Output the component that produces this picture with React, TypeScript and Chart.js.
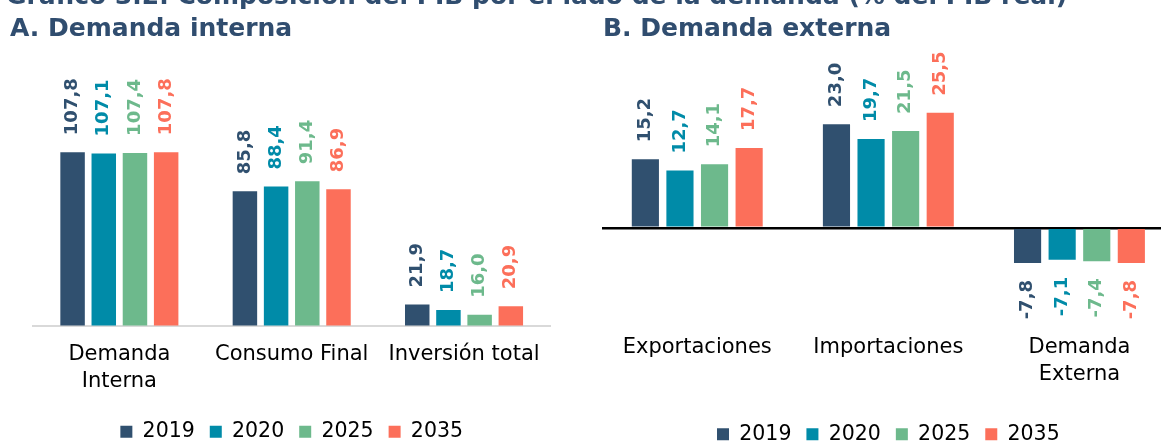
import React, { useEffect, useRef } from 'react';
import { Chart, registerables } from 'chart.js';

Chart.register(...registerables);

const FONT = '"DejaVu Sans", Verdana, sans-serif';
const TITLE_COLOR = '#304D6F';

const MAIN_TITLE = 'Gráfico 3.2. Composición del PIB por el lado de la demanda (% del PIB real)';
const TITLE_A = 'A. Demanda interna';
const TITLE_B = 'B. Demanda externa';

const YEARS = ['2019', '2020', '2025', '2035'];
const COLORS = ['#30506F', '#008BA8', '#6DB98C', '#FC6F5A'];

const INT_CATEGORIES: (string | string[])[] = [['Demanda', 'Interna'], 'Consumo Final', 'Inversión total'];
const INT_2019 = [107.8, 85.8, 21.9];
const INT_2020 = [107.1, 88.4, 18.7];
const INT_2025 = [107.4, 91.4, 16.0];
const INT_2035 = [107.8, 86.9, 20.9];

const EXT_CATEGORIES: (string | string[])[] = ['Exportaciones', 'Importaciones', ['Demanda', 'Externa']];
const EXT_2019 = [15.2, 23.0, -7.8];
const EXT_2020 = [12.7, 19.7, -7.1];
const EXT_2025 = [14.1, 21.5, -7.4];
const EXT_2035 = [17.7, 25.5, -7.8];

const INT_Y_MIN = 10;
const INT_Y_MAX = 165;
const EXT_Y_MIN = -20;
const EXT_Y_MAX = 40;

const valueLabels = {
  id: 'valueLabels',
  afterDatasetsDraw(chart: any) {
    const ctx = chart.ctx;
    chart.data.datasets.forEach((ds: any, di: number) => {
      const meta = chart.getDatasetMeta(di);
      meta.data.forEach((bar: any, i: number) => {
        const v = ds.data[i] as number;
        const text = v.toFixed(1).replace('.', ',');
        ctx.save();
        ctx.font = `bold 18px ${FONT}`;
        ctx.fillStyle = ds.backgroundColor;
        ctx.textBaseline = 'middle';
        const off = 17;
        ctx.translate(bar.x, v >= 0 ? bar.y - off : bar.y + off);
        ctx.rotate(-Math.PI / 2);
        ctx.textAlign = v >= 0 ? 'left' : 'right';
        ctx.fillText(text, 0, 0);
        ctx.restore();
      });
    });
  },
};

function makeDatasets(series: number[][]) {
  return series.map((data, i) => ({
    label: YEARS[i],
    data,
    backgroundColor: COLORS[i],
    borderWidth: 0,
    categoryPercentage: 0.724,
    barPercentage: 0.785,
  }));
}

const legendOpts = {
  display: true,
  position: 'bottom' as const,
  labels: {
    font: { size: 20.5, family: FONT },
    color: '#000',
    boxWidth: 12,
    boxHeight: 12,
    padding: 15,
  },
};

const tickFont = { size: 21, family: FONT, lineHeight: 1.27 };

function InternalChart() {
  const ref = useRef<HTMLCanvasElement>(null);
  useEffect(() => {
    const chart = new Chart(ref.current!, {
      type: 'bar',
      data: {
        labels: INT_CATEGORIES as any,
        datasets: makeDatasets([INT_2019, INT_2020, INT_2025, INT_2035]) as any,
      },
      options: {
        responsive: false,
        animation: false,
        devicePixelRatio: 1,
        layout: { padding: { left: 33.2, right: 29.8, top: 50.8, bottom: 8 } },
        plugins: { legend: legendOpts as any, tooltip: { enabled: false }, title: { display: false } },
        scales: {
          x: {
            grid: { display: false, drawTicks: false },
            border: { display: true, color: '#D9D9D9', width: 2 },
            ticks: {
              font: tickFont,
              color: '#000',
              padding: 16,
              maxRotation: 0,
              autoSkip: false,
            },
            afterFit: (s: any) => { s.height = 81; },
          },
          y: {
            display: false,
            min: INT_Y_MIN,
            max: INT_Y_MAX,
          },
        },
      },
      plugins: [valueLabels],
    });
    return () => chart.destroy();
  }, []);
  return <canvas ref={ref} width={580} height={460} style={{ position: 'absolute', left: 0, top: 0, width: 580, height: 460 }} />;
}

function ExternalChart() {
  const ref = useRef<HTMLCanvasElement>(null);
  useEffect(() => {
    const chart = new Chart(ref.current!, {
      type: 'bar',
      data: {
        labels: EXT_CATEGORIES as any,
        datasets: makeDatasets([EXT_2019, EXT_2020, EXT_2025, EXT_2035]) as any,
      },
      options: {
        responsive: false,
        animation: false,
        devicePixelRatio: 1,
        layout: { padding: { left: 21.7, right: 25, top: 47.5, bottom: 5.5 } },
        plugins: { legend: legendOpts as any, tooltip: { enabled: false }, title: { display: false } },
        scales: {
          x: {
            grid: { display: false, drawTicks: false },
            border: { display: false },
            ticks: {
              font: tickFont,
              color: '#000',
              padding: 16.5,
              maxRotation: 0,
              autoSkip: false,
            },
            afterFit: (s: any) => { s.height = 91; },
          },
          y: {
            display: true,
            min: EXT_Y_MIN,
            max: EXT_Y_MAX,
            z: 1,
            ticks: { display: false, stepSize: 10 },
            border: { display: false },
            grid: {
              drawTicks: false,
              color: (c: any) => (c.tick && c.tick.value === 0 ? '#000' : 'rgba(0,0,0,0)'),
              lineWidth: (c: any) => (c.tick && c.tick.value === 0 ? 2.5 : 0),
            },
            afterFit: (s: any) => { s.width = 0; },
          },
        },
      },
      plugins: [valueLabels],
    });
    return () => chart.destroy();
  }, []);
  return <canvas ref={ref} width={620} height={460} style={{ position: 'absolute', left: 580, top: 0, width: 620, height: 460 }} />;
}

export default function App() {
  const titleStyle: React.CSSProperties = {
    position: 'absolute',
    fontFamily: FONT,
    fontWeight: 'bold',
    fontSize: 25,
    lineHeight: '25px',
    color: TITLE_COLOR,
    whiteSpace: 'nowrap',
    zIndex: 2,
  };
  return (
    <div style={{ position: 'absolute', left: 0, top: 0, width: 1161, height: 443, overflow: 'hidden', background: '#fff' }}>
      <InternalChart />
      <ExternalChart />
      <div style={{ ...titleStyle, left: 6, top: -17 }}>{MAIN_TITLE}</div>
      <div style={{ ...titleStyle, left: 10, top: 14.5 }}>{TITLE_A}</div>
      <div style={{ ...titleStyle, left: 603, top: 14.5 }}>{TITLE_B}</div>
    </div>
  );
}
